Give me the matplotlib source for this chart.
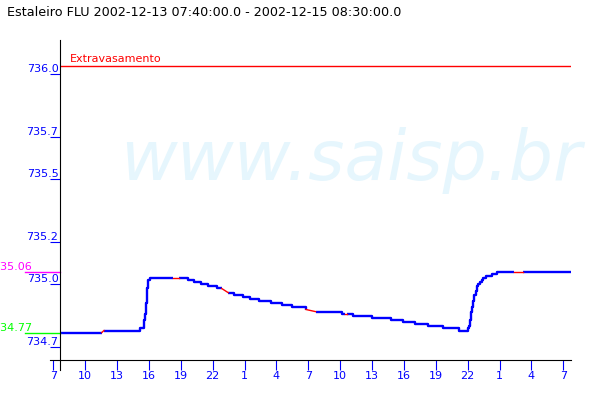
import numpy as np
import matplotlib
matplotlib.use('Agg')
import matplotlib.pyplot as plt
import matplotlib.transforms as mtransforms

# horas desde 2002-12-13 00:00 e cota (m) de cada leitura
horas = [7.67, 11.56, 11.77, 15.16, 15.47, 15.56, 15.63, 15.72, 15.79, 15.85,
         15.94, 16.10, 18.27, 18.83, 19.71, 20.27, 20.90, 21.53, 22.38, 22.85,
         23.47, 24.01, 24.88, 25.51, 26.36, 27.49, 28.50, 29.49, 30.78, 31.68,
         34.17, 34.41, 34.60, 35.18, 36.97, 38.76, 39.91, 41.07, 42.27, 43.68,
         45.19, 46.06, 46.15, 46.22, 46.31, 46.44, 46.53, 46.62, 46.75, 46.85,
         47.00, 47.16, 47.32, 47.47, 47.72, 48.26, 48.79, 50.36, 51.18, 55.70]
cota = [734.77, 734.77, 734.78, 734.79, 734.79, 734.83, 734.86, 734.91, 734.94, 734.98,
        735.02, 735.03, 735.03, 735.03, 735.02, 735.01, 735.00, 734.99, 734.98, 734.98,
        734.96, 734.95, 734.94, 734.93, 734.92, 734.91, 734.90, 734.89, 734.88, 734.87,
        734.86, 734.86, 734.86, 734.85, 734.84, 734.83, 734.82, 734.81, 734.80, 734.79,
        734.78, 734.79, 734.80, 734.83, 734.87, 734.89, 734.92, 734.95, 734.97, 734.99,
        735.00, 735.01, 735.02, 735.03, 735.04, 735.05, 735.06, 735.06, 735.06, 735.06]
# intervalos sem leitura (desenhados em vermelho)
falha = [1, 12, 19, 28, 31, 57]

extravasamento = 736.04
ticks_x = [7, 10, 13, 16, 19, 22, 25, 28, 31, 34, 37, 40, 43, 46, 49, 52, 55]
rotulos_x = ['7', '10', '13', '16', '19', '22', '1', '4', '7', '10', '13', '16', '19', '22', '1', '4', '7']
ticks_y = [736.0, 735.7, 735.5, 735.2, 735.0, 734.7]
rotulos_y = ['736.0', '735.7', '735.5', '735.2', '735.0', '734.7']
titulo = 'Estaleiro FLU 2002-12-13 07:40:00.0 - 2002-12-15 08:30:00.0'

fig = plt.figure(figsize=(6, 4), dpi=100)
ax = fig.add_axes([50 / 600, 30 / 400, 520.7 / 600, 330 / 400])
ax.set_xlim(6.69, 55.70)
ax.set_ylim(734.592, 736.163)

# marca d'agua
ax.text(120 / 600, 0.55, 'www.saisp.br', transform=fig.transFigure, fontsize=50,
        style='italic', color='#e6f6fd', va='baseline', ha='left', zorder=0)

# serie: degraus em azul, falhas em vermelho
bx, by = [horas[0]], [cota[0]]
for i in range(len(horas) - 1):
    if i in falha:
        ax.plot([horas[i], horas[i + 1]], [cota[i], cota[i + 1]], color='red', lw=1, zorder=3)
        bx += [np.nan, horas[i + 1]]
        by += [np.nan, cota[i + 1]]
    else:
        bx += [horas[i + 1], horas[i + 1]]
        by += [cota[i], cota[i + 1]]
ax.plot(bx, by, color='#0000ff', lw=1.7, zorder=2, solid_capstyle='butt')

# extravasamento
ax.hlines(extravasamento, horas[0], horas[-1], color='red', lw=1)
ax.annotate('Extravasamento', (horas[0], extravasamento), xytext=(7, 3),
            textcoords='offset points', color='red', fontsize=8, va='baseline')

# maximo e minimo
trans = mtransforms.blended_transform_factory(fig.transFigure, ax.transData)
for v, cor in [(max(cota), '#ff00ff'), (min(cota), '#00ff00')]:
    ax.plot([25 / 600, 60 / 600], [v, v], color=cor, lw=1, transform=trans, clip_on=False)
    ax.text(32 / 600, v, f'{v:.2f}', color=cor, fontsize=8, transform=trans,
            ha='right', va='bottom')

# eixos
for s in ['top', 'right']:
    ax.spines[s].set_visible(False)
ax.spines['left'].set_position(('data', horas[0]))
ax.spines['bottom'].set_position(('data', 734.64))
ax.spines['left'].set_linewidth(0.8)
ax.spines['bottom'].set_linewidth(0.8)

ax.set_xticks(ticks_x, rotulos_x)
ax.set_yticks(ticks_y, rotulos_y)
ax.tick_params(axis='x', colors='#0000ff', length=7.2, width=0.8, pad=1, labelsize=8)
ax.tick_params(axis='y', colors='#0000ff', length=7.2, width=0.8, pad=-5.8, labelsize=8)
for lb in ax.get_yticklabels():
    lb.set_verticalalignment('bottom')

fig.text(7 / 600, 1 - 12 / 400, titulo, fontsize=9.2, va='center', ha='left')

fig.savefig('out.png', dpi=100)
